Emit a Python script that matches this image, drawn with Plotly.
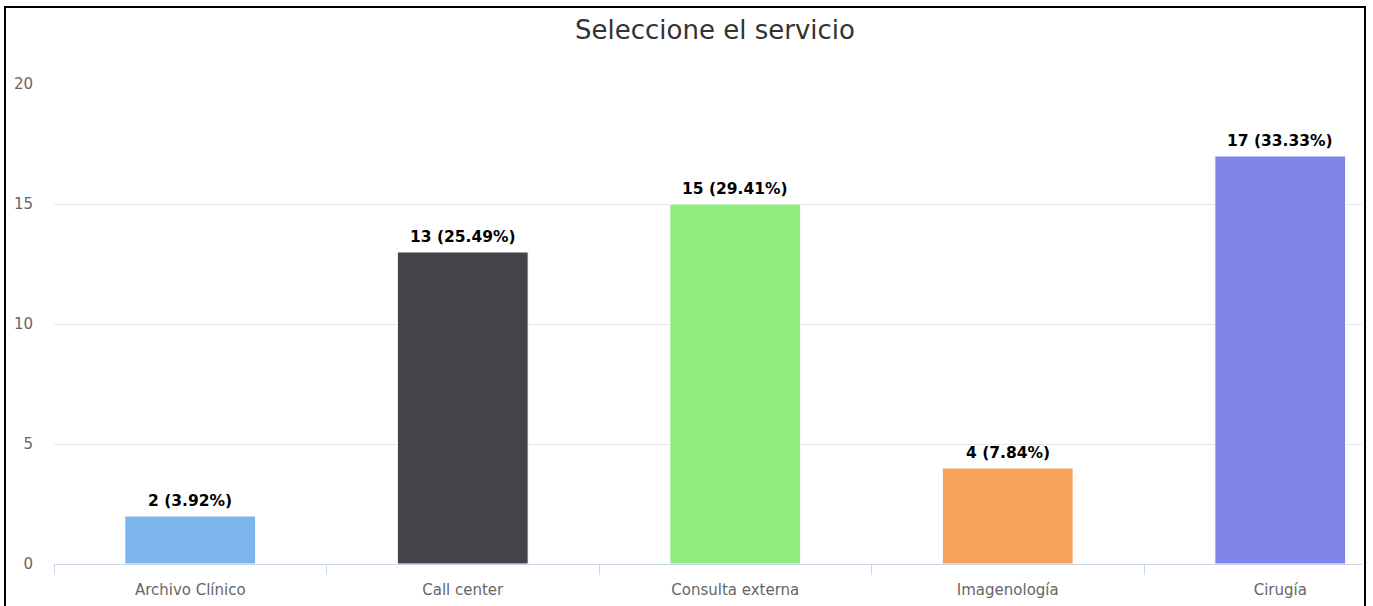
import plotly.graph_objects as go

servicios = ["Archivo Clínico", "Call center", "Consulta externa", "Imagenología", "Cirugía"]
respuestas = [2, 13, 15, 4, 17]
colores = ["#7cb5ec", "#434348", "#90ed7d", "#f7a35c", "#8085e9"]
y_ticks = [0, 5, 10, 15, 20]

total = sum(respuestas)
etiquetas = [f"<b>{v} ({v / total * 100:.2f}%)</b>" for v in respuestas]

W, H = 1373, 606

fig = go.Figure(go.Bar(
    x=servicios,
    y=respuestas,
    width=0.48,
    marker=dict(color=colores, line=dict(color="white", width=1)),
    hoverinfo="x+y",
))

# etiquetas de datos encima de cada barra
for s, v, t in zip(servicios, respuestas, etiquetas):
    fig.add_annotation(
        x=s, y=v, text=t, showarrow=False,
        yanchor="middle", yshift=15,
        font=dict(family="DejaVu Sans", size=15.5, color="#000000"),
    )

fig.update_layout(
    width=W,
    height=H,
    margin=dict(l=0, r=0, t=0, b=0),
    paper_bgcolor="white",
    plot_bgcolor="white",
    showlegend=False,
    font=dict(family="DejaVu Sans", color="#666666", size=15),
    title=dict(
        text="Seleccione el servicio",
        x=715 / W, xanchor="center",
        y=1 - 30 / H, yanchor="middle",
        font=dict(family="DejaVu Sans", size=26, color="#333333"),
    ),
    xaxis=dict(
        domain=[54 / W, 1362 / W],
        range=[-0.5, 4.3],
        showgrid=False,
        showline=True,
        linecolor="#ccd6eb",
        linewidth=1,
        ticks="outside",
        tickson="boundaries",
        ticklen=10,
        tickcolor="#ccd6eb",
        ticklabelstandoff=12,
        tickfont=dict(size=15, color="#666666"),
        automargin=False,
        fixedrange=True,
    ),
    yaxis=dict(
        domain=[(H - 564) / H, (H - 84) / H],
        range=[0, 20],
        tickvals=y_ticks,
        showgrid=True,
        gridcolor="#e6e6e6",
        zeroline=False,
        showline=False,
        ticklabelstandoff=20,
        tickfont=dict(size=15, color="#666666"),
        automargin=False,
        fixedrange=True,
    ),
)

fig.add_shape(
    type="rect", xref="paper", yref="paper",
    x0=5 / W, x1=1365 / W, y0=-0.05, y1=1 - 7 / H,
    line=dict(color="#000000", width=2),
    fillcolor="rgba(0,0,0,0)",
)

fig.write_html(
    "out.html",
    config={"displayModeBar": False},
    post_script="document.body.style.margin='0';",
)
